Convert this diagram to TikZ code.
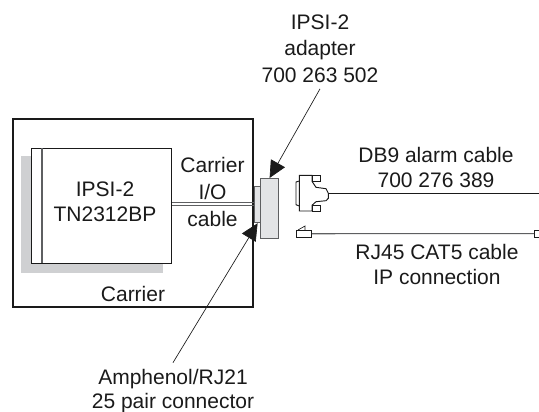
\documentclass[tikz,border=0pt]{standalone}
\usepackage{fontspec}
\setmainfont{Liberation Sans}
\usepackage{tikz}
\usetikzlibrary{arrows.meta}
\definecolor{ink}{HTML}{1A1A1A}
\definecolor{shadowgray}{HTML}{CFD0D2}
\definecolor{plate}{HTML}{E3E4E6}
\definecolor{edge}{HTML}{5E5F61}
\tikzset{
  >={Triangle[length=12.7pt,width=12pt]},
  label/.style={font=\fontsize{15.75}{18.75}\selectfont,align=center,text=ink,inner sep=0pt},
  box/.style={draw=ink,line width=1.4pt},
  part/.style={draw=edge,fill=plate,line width=.9pt,inner sep=0pt,anchor=north west},
  plugbox/.style={draw=ink,fill=white,line width=.6pt,inner sep=0pt,anchor=north west},
  pointer/.style={->,draw=ink,line width=.5pt},
  wire/.style={draw=ink,line width=.7pt},
  graywire/.style={draw=edge,line width=.8pt},
}
\begin{document}
\begin{tikzpicture}[x=.75pt,y=-.75pt]
  \useasboundingbox (0,0) rectangle (539,411);
  % carrier and card
  \draw[box] (13,119) rectangle (253,307);
  \fill[shadowgray] (21,156) rectangle (163,273);
  \node[plugbox,minimum width=105pt,minimum height=86.25pt] (card) at (31,148) {};
  \draw[edge,line width=.8pt] (42,148) -- (42,263);
  \node[label] (cardtext) at (105,202) {IPSI-2\\TN2312BP};
  \node[label] (carrier) at (133,293.5) {Carrier};
  \node[label] (iotext) at (212.5,191.5) {Carrier\\[1.5pt]I/O\\[1.5pt]cable};

  % connector parts
  \node[part,minimum width=4.5pt,minimum height=27pt] (plug) at (254,186) {};
  \node[part,minimum width=13.5pt,minimum height=45pt] (adapter) at (260,178) {};
  \draw[graywire] (card.east |- 0,202.5) -- (plug.west |- 0,202.5);
  \draw[graywire] (card.east |- 0,205.5) -- (plug.west |- 0,205.5);

  % cables
  \coordinate (dbend) at (539,193.3);
  \coordinate (dbneck) at (328.3,193.3);
  \draw[wire] (dbneck) -- (dbend);
  \draw[wire,fill=white] (299.3,175.3) -- (312,175.3) -- (312,181.3) -- (316,187.3) -- (326,188.7)
    -- (328.3,193.3) -- (328.3,198.3) -- (326,200.7) -- (316,201.7) -- (312,205.3) -- (312,211)
    -- (299.3,211) -- cycle;
  \draw[wire,fill=white] (312,175.5) rectangle (320,181.3);
  \draw[wire,fill=white] (312,205.3) rectangle (320,211);
  \draw[wire] (299.3,181) -- (296,182) -- (296,204.7) -- (299.3,206);
  \node[plugbox,minimum width=11.25pt,minimum height=5pt] (rjleft) at (296,230) {};
  \node[plugbox,minimum width=6pt,minimum height=5.5pt] (rjright) at (534,229.5) {};
  \draw[graywire] (rjleft) -- (rjright);
  \draw[ink,line width=.5pt] (298,230) -- (305,226) -- (305,230);

  \node[label] (dbtext) at (436,167) {DB9 alarm cable\\700 276 389};
  \node[label] (rjtext) at (437,264) {RJ45 CAT5 cable\\IP connection};
  \node[label] (adaptertext) at (320,48.5) {IPSI-2\\[1.25pt]adapter\\[1.25pt]700 263 502};
  \node[label] (amphenol) at (173,390.7) {Amphenol/RJ21\\[-.75pt]25 pair connector};

  % pointers
  \draw[pointer] ([yshift=-4.5pt]adaptertext.south) -- (adapter.north);
  \draw[pointer] ([yshift=4.5pt]amphenol.north) -- (plug.south);
\end{tikzpicture}
\end{document}
